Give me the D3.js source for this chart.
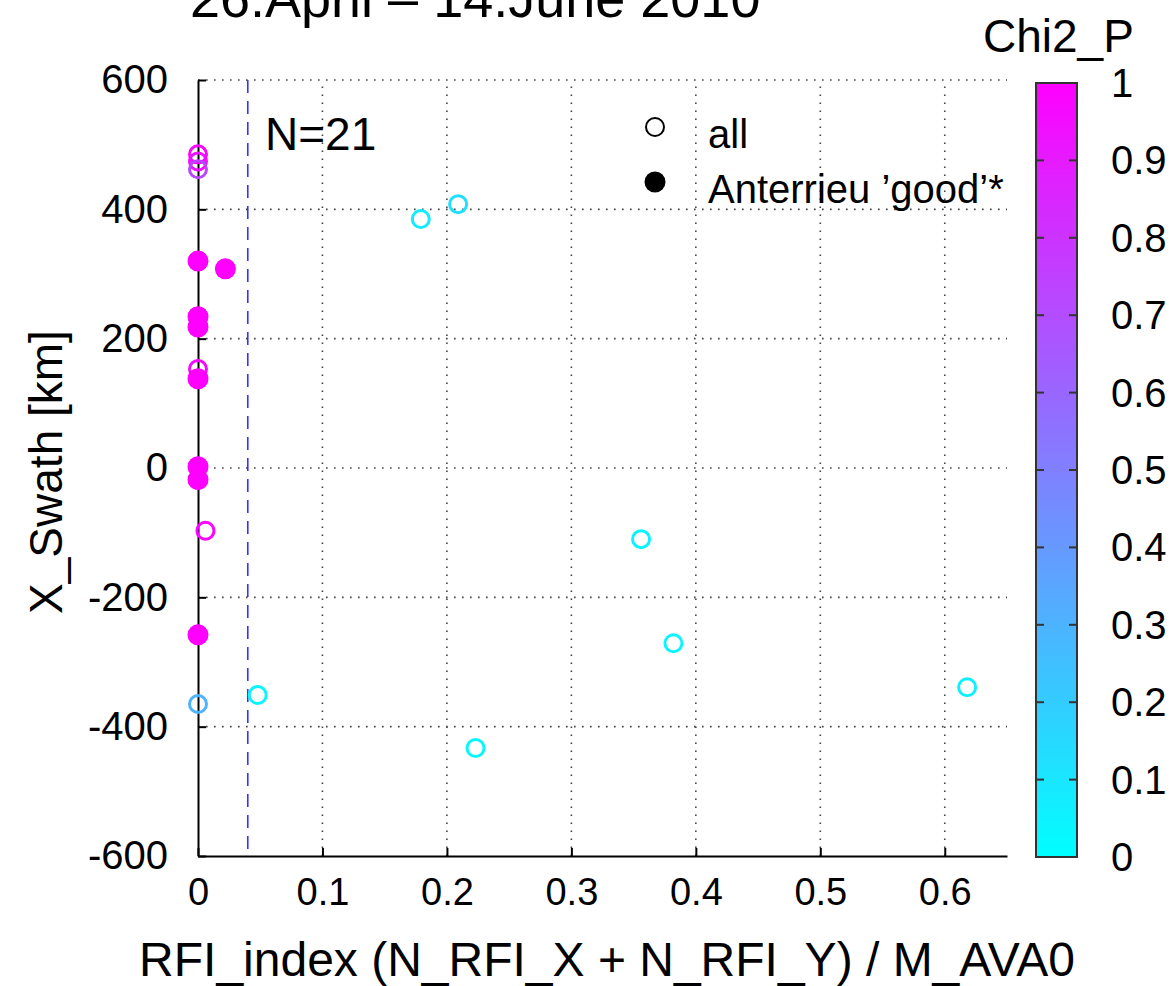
<!DOCTYPE html>
<html><head><meta charset="utf-8">
<script src="https://cdn.jsdelivr.net/npm/d3@7"></script>
<style>body{margin:0;background:#fff}svg{display:block;font-family:"Liberation Sans",Arial,sans-serif}</style>
</head><body><svg id="c" width="1171" height="986"></svg>
<script>
const xTicks = [0, 0.1, 0.2, 0.3, 0.4, 0.5, 0.6];
const yTicks = [-600, -400, -200, 0, 200, 400, 600];
const cTicks = [0, 0.1, 0.2, 0.3, 0.4, 0.5, 0.6, 0.7, 0.8, 0.9, 1];
const rfiIndex = [0.0, 0.0, 0.0, 0.0, 0.022, 0.0, 0.0, 0.0, 0.0, 0.0, 0.0, 0.006, 0.0, 0.0, 0.048, 0.179, 0.209, 0.356, 0.382, 0.223, 0.618];
const xSwath   = [485, 474, 462, 320, 308, 234, 218, 153, 138, 2, -18, -97, -258, -365, -351, 385, 408, -110, -271, -433, -339];
const chi2P    = [0.98, 0.93, 0.72, 1, 1, 1, 1, 0.97, 1, 1, 1, 0.99, 1, 0.3, 0.04, 0.08, 0.12, 0.05, 0.04, 0.03, 0.06];
const good     = [0, 0, 0, 1, 1, 1, 1, 0, 1, 1, 1, 0, 1, 0, 0, 0, 0, 0, 0, 0, 0];
const rfiThreshold = 0.04;

const svg = d3.select("#c");
const L = 198, R = 1007, T = 80, B = 856;
const x = d3.scaleLinear().domain([0, 0.65]).range([L, R]);
const y = d3.scaleLinear().domain([-600, 600]).range([B, T]);
const col = d3.scaleLinear().domain([0, 1]).range(["#00ffff", "#ff00ff"]).interpolate(d3.interpolateRgb);
const FF = "Liberation Sans, Arial, sans-serif";

// grid
const grid = svg.append("g").attr("stroke", "#444").attr("stroke-width", 1.6).attr("stroke-dasharray", "1.6,6.4");
grid.selectAll(".gx").data(xTicks.filter(d => d > 0)).join("line")
  .attr("x1", d => x(d)).attr("x2", d => x(d)).attr("y1", B).attr("y2", T);
grid.selectAll(".gy").data(yTicks.filter(d => d > -600)).join("line")
  .attr("x1", L).attr("x2", R).attr("y1", d => y(d)).attr("y2", d => y(d));

// axes
const xAxis = d3.axisBottom(x).tickValues(xTicks).tickFormat(d => d3.format("")(d)).tickSizeInner(-8).tickSizeOuter(0).tickPadding(22);
const gx = svg.append("g").attr("transform", `translate(0,${B})`).call(xAxis);
gx.select(".domain").attr("stroke", "#000").attr("stroke-width", 2);
gx.selectAll(".tick line").attr("stroke", "#000").attr("stroke-width", 2);
gx.selectAll("text").attr("font-size", 38).attr("fill", "#000").attr("font-family", FF);
const yAxis = d3.axisLeft(y).tickValues(yTicks).tickFormat(d => String(d)).tickSizeInner(-8).tickSizeOuter(0).tickPadding(30);
const gy = svg.append("g").attr("transform", `translate(${L},0)`).call(yAxis);
gy.select(".domain").attr("stroke", "#000").attr("stroke-width", 2);
gy.selectAll(".tick line").attr("stroke", "#000").attr("stroke-width", 2);
gy.selectAll("text").attr("font-size", 40).attr("fill", "#000").attr("font-family", FF);

// threshold line
svg.append("line").attr("x1", x(rfiThreshold)).attr("x2", x(rfiThreshold)).attr("y1", T).attr("y2", B)
  .attr("stroke", "#3333ff").attr("stroke-width", 1.6).attr("stroke-dasharray", "13,8");

// points
const idx = d3.range(rfiIndex.length);
svg.append("g").selectAll("circle").data(idx).join("circle")
  .attr("cx", i => x(rfiIndex[i])).attr("cy", i => y(xSwath[i])).attr("r", 8.5)
  .attr("fill", "none").attr("stroke", i => col(chi2P[i])).attr("stroke-width", 3);
svg.append("g").selectAll("circle").data(idx.filter(i => good[i])).join("circle")
  .attr("cx", i => x(rfiIndex[i])).attr("cy", i => y(xSwath[i])).attr("r", 10.5)
  .attr("fill", i => col(chi2P[i]));

// texts
svg.append("text").attr("x", 265).attr("y", 150).attr("font-size", 46).text("N=21");
svg.append("text").attr("x", 190).attr("y", 17).attr("font-size", 54).text("26.April – 14.June 2010");
svg.append("text").attr("transform", "translate(62,472) rotate(-90)").attr("text-anchor", "middle").attr("font-size", 46).text("X_Swath [km]");
svg.append("text").attr("x", 607).attr("y", 976).attr("text-anchor", "middle").attr("font-size", 48).text("RFI_index (N_RFI_X + N_RFI_Y) / M_AVA0");

// legend
svg.append("circle").attr("cx", 655).attr("cy", 127).attr("r", 9).attr("fill", "none").attr("stroke", "#000").attr("stroke-width", 2);
svg.append("text").attr("x", 708).attr("y", 148).attr("font-size", 40).text("all");
svg.append("circle").attr("cx", 655).attr("cy", 182).attr("r", 10.5).attr("fill", "#000");
svg.append("text").attr("x", 708).attr("y", 203).attr("font-size", 40).text("Anterrieu ’good’*");

// colorbar
const cbL = 1036, cbR = 1077, cbT = 83, cbB = 857;
const cy = d3.scaleLinear().domain([0, 1]).range([cbB, cbT]);
const defs = svg.append("defs");
const grad = defs.append("linearGradient").attr("id", "cg").attr("x1", 0).attr("x2", 0).attr("y1", 1).attr("y2", 0);
grad.selectAll("stop").data(cTicks).join("stop").attr("offset", d => d).attr("stop-color", d => col(d));
svg.append("rect").attr("x", cbL).attr("y", cbT).attr("width", cbR - cbL).attr("height", cbB - cbT)
  .attr("fill", "url(#cg)").attr("stroke", "#333").attr("stroke-width", 2);
const cb = svg.append("g").attr("stroke", "#333").attr("stroke-width", 2);
cb.selectAll(".l").data(cTicks.slice(1, -1)).join("line").attr("x1", cbL).attr("x2", cbL + 8).attr("y1", d => cy(d)).attr("y2", d => cy(d));
cb.selectAll(".r").data(cTicks.slice(1, -1)).join("line").attr("x1", cbR - 8).attr("x2", cbR).attr("y1", d => cy(d)).attr("y2", d => cy(d));
svg.append("g").selectAll("text").data(cTicks).join("text")
  .attr("x", 1111).attr("y", d => cy(d) + 14).attr("font-size", 40).text(d => d3.format("")(d));
svg.append("text").attr("x", 983).attr("y", 52).attr("font-size", 46).text("Chi2_P");
</script></body></html>
